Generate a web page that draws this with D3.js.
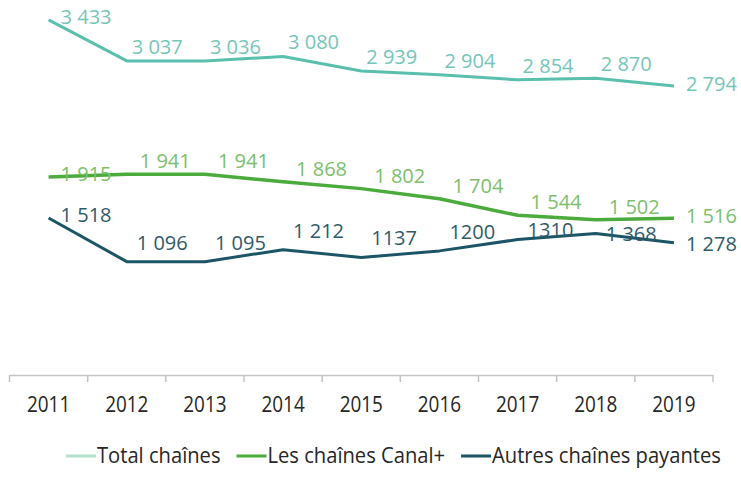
<!DOCTYPE html>
<html>
<head>
<meta charset="utf-8">
<script src="https://cdn.jsdelivr.net/npm/d3@7"></script>
<style>
  html, body { margin: 0; padding: 0; background: #fff; }
  svg { display: block; }
</style>
</head>
<body>
<svg id="chart" width="741" height="495"></svg>
<script>
const years = ["2011","2012","2013","2014","2015","2016","2017","2018","2019"];
const seriesNames = ["Total chaînes", "Les chaînes Canal+", "Autres chaînes payantes"];
const totalValues = [3433, 3037, 3036, 3080, 2939, 2904, 2854, 2870, 2794];
const canalValues = [1915, 1941, 1941, 1868, 1802, 1704, 1544, 1502, 1516];
const autresValues = [1518, 1096, 1095, 1212, 1137, 1200, 1310, 1368, 1278];
const totalLabels = ["3 433","3 037","3 036","3 080","2 939","2 904","2 854","2 870","2 794"];
const canalLabels = ["1 915","1 941","1 941","1 868","1 802","1 704","1 544","1 502","1 516"];
const autresLabels = ["1 518","1 096","1 095","1 212","1137","1200","1310","1 368","1 278"];

const series = [
  { name: seriesNames[0], values: totalValues, labels: totalLabels, color: "#5bbfae", labelColor: "#74c6b8", legendColor: "#b4e0cc", width: 3, dx: 5, dy: -7 },
  { name: seriesNames[1], values: canalValues, labels: canalLabels, color: "#4bab3c", labelColor: "#7cc06b", legendColor: "#4bab3c", width: 3.5, dx: 13, dy: -6 },
  { name: seriesNames[2], values: autresValues, labels: autresLabels, color: "#1b5566", labelColor: "#2f5b69", legendColor: "#1b5566", width: 3, dx: 10, dy: -12 }
];

const svg = d3.select("#chart");
const x = d3.scaleBand().domain(years).range([9.5, 713]).paddingInner(0).paddingOuter(0);
const y = d3.scaleLinear().domain([0, 3500]).range([375, 13]);
const cx = d => x(d) + x.bandwidth() / 2;

// axis
const axisG = svg.append("g").attr("transform", `translate(0,${y(0)})`)
  .call(d3.axisBottom(x).tickSize(0).tickPadding(0));
axisG.select(".domain").attr("stroke", "#c4c4c4").attr("stroke-width", 1.5);
axisG.selectAll(".tick text")
  .attr("y", 37).attr("dy", 0)
  .attr("transform", "scale(0.86,1)")
  .style("font-family", "'Open Sans', sans-serif")
  .style("font-size", "22px")
  .attr("fill", "#262626");
// boundary ticks
const bounds = years.map(d => x(d)).concat([x.range()[1]]);
svg.append("g").selectAll("line").data(bounds).join("line")
  .attr("x1", d => d).attr("x2", d => d)
  .attr("y1", y(0)).attr("y2", y(0) + 7)
  .attr("stroke", "#c4c4c4").attr("stroke-width", 1.5);

// lines
const line = d3.line().x((d, i) => cx(years[i])).y(d => y(d));
series.forEach(s => {
  svg.append("path").datum(s.values)
    .attr("d", line)
    .attr("fill", "none")
    .attr("stroke", s.color)
    .attr("stroke-width", s.width)
    .attr("stroke-linejoin", "round");
});

// labels
const last = years.length - 1;
const labelSets = [];
series.forEach(s => {
  const sel = svg.append("g").selectAll("text").data(s.values).join("text")
    .attr("x", (d, i) => cx(years[i]) + (i === 0 || i === last ? 12 : s.dx))
    .attr("y", (d, i) => y(d) + (i === 0 ? -3 : i === last ? -2 : s.dy))
    .attr("dy", (d, i) => (i === 0 || i === last) ? "0.35em" : 0)
    .attr("text-anchor", "start")
    .style("font-family", "'Open Sans', sans-serif")
    .style("font-size", "20px")
    .attr("fill", s.labelColor)
    .text((d, i) => s.labels[i]);
  labelSets.push(sel);
});

// simple collision avoidance: push lower-series labels down below overlapping labels of the series above
function overlaps(a, b) {
  return a.x < b.x + b.width && b.x < a.x + a.width && a.y < b.y + b.height && b.y < a.y + a.height;
}
for (let k = 1; k < labelSets.length; k++) {
  const above = labelSets[k - 1].nodes().map(n => n.getBBox());
  labelSets[k].each(function () {
    let b = this.getBBox();
    for (const o of above) {
      if (overlaps(b, o)) {
        const shift = (o.y + o.height) - b.y + 0.5;
        this.setAttribute("y", +this.getAttribute("y") + shift);
        b = this.getBBox();
      }
    }
  });
}

// legend
const legend = svg.append("g");
let lx = 66;
const ly = 456;
const lscale = 0.96;
series.forEach(s => {
  legend.append("line")
    .attr("x1", lx).attr("x2", lx + 30)
    .attr("y1", ly).attr("y2", ly)
    .attr("stroke", s.legendColor).attr("stroke-width", 3);
  const t = legend.append("text")
    .attr("x", 0).attr("y", ly)
    .attr("dy", "0.35em")
    .attr("transform", `translate(${lx + 31},0) scale(${lscale},1)`)
    .style("font-family", "'Open Sans', sans-serif")
    .style("font-size", "21px")
    .attr("fill", "#262626")
    .text(s.name);
  lx = lx + 31 + t.node().getComputedTextLength() * lscale + 16;
});
</script>
</body>
</html>
